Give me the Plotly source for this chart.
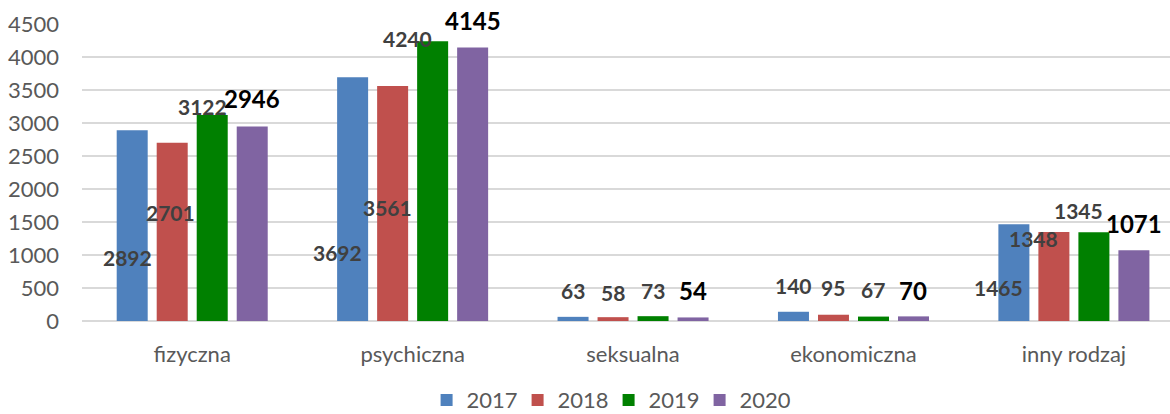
from plotly import graph_objects as go

categories = ['fizyczna', 'psychiczna', 'seksualna', 'ekonomiczna', 'inny rodzaj']
years = ['2017', '2018', '2019', '2020']
values_2017 = [2892, 3692, 63, 140, 1465]
values_2018 = [2701, 3561, 58, 95, 1348]
values_2019 = [3122, 4240, 73, 67, 1345]
values_2020 = [2946, 4145, 54, 70, 1071]
y_ticks = [0, 500, 1000, 1500, 2000, 2500, 3000, 3500, 4000, 4500]

colors = ['#4F81BD', '#C0504D', '#008000', '#8064A2']
series = [values_2017, values_2018, values_2019, values_2020]

# label placement (px) relative to the top centre of each bar, as hand-moved in the original
bar_shift = [-60, -20, 20, 60]
label_moves = [
    [(-5, 127), (-15, 175), (0, -26), (0, -26), (-15, 63)],
    [(-2, 70), (-5, 122), (0, -25), (0, -27), (-20, 6)],
    [(-10, -8), (-25, -3), (0, -26), (0, -27), (-15, -22)],
    [(0, -28), (0, -27), (0, -27), (0, -26), (0, -27)],
]

FONT = 'Lato'

fig = go.Figure()
for year, vals, col in zip(years, series, colors):
    fig.add_trace(go.Bar(
        name=year, x=categories, y=vals,
        marker=dict(color=col, line=dict(width=0)),
    ))

annotations = []
for i, vals in enumerate(series):
    last = i == len(series) - 1
    for j, v in enumerate(vals):
        dx, dy = label_moves[i][j]
        annotations.append(dict(
            x=categories[j], y=v, text=f'<b>{v}</b>', showarrow=False,
            xanchor='center', yanchor='middle',
            xshift=bar_shift[i] + dx, yshift=-dy,
            font=dict(family=FONT, size=24 if last else 21,
                      color='#000000' if last else '#404040'),
        ))

fig.update_layout(
    width=1170, height=414,
    margin=dict(l=82, r=0, t=24, b=93, autoexpand=False),
    paper_bgcolor='white', plot_bgcolor='white',
    barmode='group', bargap=0.274, bargroupgap=0.225,
    font=dict(family=FONT, size=22, color='#595959'),
    annotations=annotations,
    showlegend=True,
    legend=dict(
        orientation='h', x=0.484, xanchor='center', y=-0.337, yanchor='bottom',
        font=dict(family=FONT, size=22, color='#595959'),
        entrywidth=46, itemwidth=30, traceorder='normal', borderwidth=0,
    ),
)
fig.update_xaxes(
    range=[-0.5, 4.436], showgrid=False, showline=False, ticks='', automargin=False,
    ticklabelstandoff=18, tickfont=dict(family=FONT, size=22, color='#595959'),
)
fig.update_yaxes(
    range=[0, 4500], tickvals=y_ticks, showgrid=True, gridcolor='#D9D9D9', gridwidth=1.5,
    zeroline=True, zerolinecolor='#D9D9D9', zerolinewidth=1.5, showline=False, ticks='',
    automargin=False,
    ticklabelstandoff=22, tickfont=dict(family=FONT, size=22, color='#595959'),
)

fig.write_html('out.html', config={'displayModeBar': False, 'displaylogo': False},
               post_script="document.body.style.margin='0';document.body.style.overflow='hidden';")
